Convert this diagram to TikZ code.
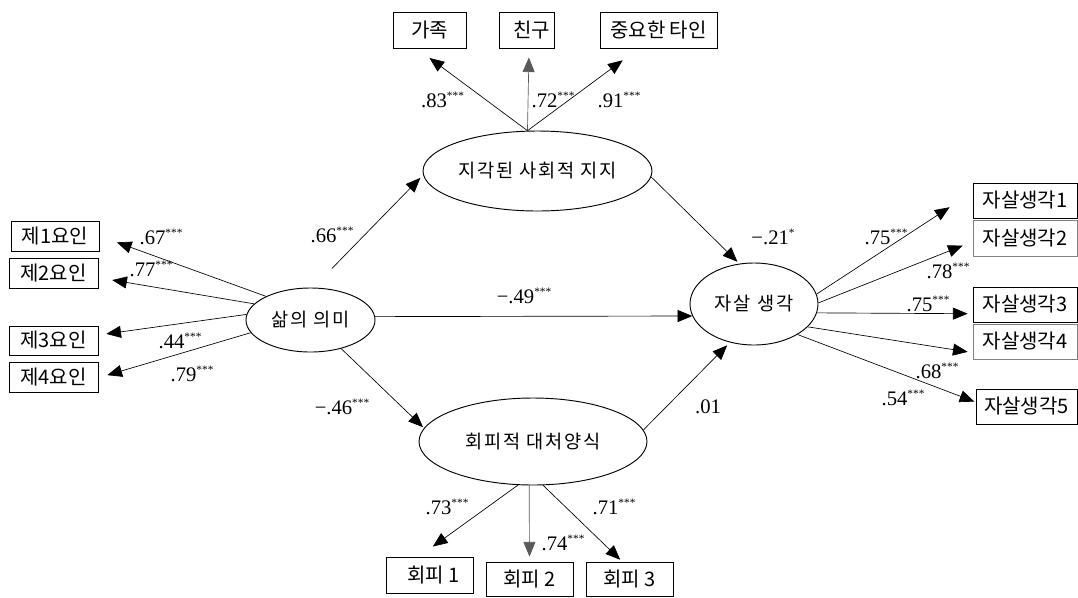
\documentclass[tikz,border=0pt]{standalone}
\usepackage{fontspec}
\setmainfont{Liberation Serif}
\newfontfamily\kr{Noto Sans CJK KR}
\newfontfamily\krsp[LetterSpace=10]{Noto Sans CJK KR}
\usetikzlibrary{shapes.geometric,arrows.meta}
\newcommand\sig[1]{\raisebox{0.42em}{\fontsize{8.5}{8.5}\selectfont #1}}
\tikzset{
  box/.style={draw, line width=0.6pt, inner sep=0pt, font=\kr\fontsize{15}{17}\selectfont},
  lat/.style={ellipse, draw, line width=0.7pt, inner sep=0pt, font=\krsp\fontsize{14}{16}\selectfont},
  arr/.style={-{Triangle[length=11pt,width=9pt]}, line width=0.5pt},
  lab/.style={inner sep=0pt, font=\fontsize{15.5}{17}\selectfont},
}
\begin{document}
\begin{tikzpicture}[x=0.75pt,y=-0.75pt]
\useasboundingbox (0,0) rectangle (1078,597);
% indicator boxes
\node[box,minimum width=54.75pt,minimum height=27pt] (gj) at (429.5,30) {가족\hspace{5pt}};
\node[box,minimum width=41.25pt,minimum height=27pt] (cg) at (526.5,30) {\hspace{8pt}친구};
\node[box,minimum width=87.75pt,minimum height=27pt] (jy) at (658.5,30) {중요한 타인};
\node[box,minimum width=66pt,minimum height=22.5pt] (f1) at (55,236) {제1요인};
\node[box,minimum width=66.75pt,minimum height=22.5pt] (f2) at (53.5,273) {제2요인};
\node[box,minimum width=66.75pt,minimum height=21.75pt] (f3) at (53.5,340.5) {제3요인};
\node[box,minimum width=66.75pt,minimum height=22.5pt] (f4) at (53.5,377) {제4요인};
\node[box,minimum width=78pt,minimum height=26.25pt] (s1) at (1025,200.5) {자살생각1};
\node[box,draw=gray,minimum width=78pt,minimum height=27pt] (s2) at (1025,238) {자살생각2};
\node[box,minimum width=78pt,minimum height=26.25pt] (s3) at (1025,304.5) {자살생각3};
\node[box,draw=gray,minimum width=78pt,minimum height=26.25pt] (s4) at (1025,341.5) {자살생각4};
\node[box,minimum width=75.75pt,minimum height=26.25pt] (s5) at (1026.5,406.5) {자살생각5};
\node[box,minimum width=65.25pt,minimum height=27pt] (h1) at (429.5,575) {\hspace{6pt}회피 1};
\node[box,minimum width=65.25pt,minimum height=25.5pt] (h2) at (529.5,579) {회피 2};
\node[box,minimum width=65.25pt,minimum height=25.5pt] (h3) at (629.5,579) {회피 3};
% latent variables
\node[lat,minimum width=171.75pt,minimum height=60pt] (jg) at (537.5,171) {\makebox[0pt]{지각된 사회적 지지}};
\node[lat,minimum width=96.75pt,minimum height=48pt] (sm) at (310.5,320) {\makebox[0pt]{삶의 의미}};
\node[lat,minimum width=96pt,minimum height=61.5pt] (js) at (754,304) {\makebox[0pt]{자살 생각}};
\node[lat,minimum width=171pt,minimum height=65.25pt] (hp) at (533,441.5) {\makebox[0pt]{회피적 대처양식}};
% measurement arrows
\draw[arr, shorten >=12pt] (jg.104) -- (gj.-125);
\draw[arr, draw=gray!70!black, shorten >=6.75pt] (jg.104) -- (cg.-82);
\draw[arr, shorten >=15pt] (jg.104) -- (jy.-137);
\draw[arr, shorten >=14pt] (sm.152) -- (f1.east);
\draw[arr, shorten >=10.5pt] (sm.164.6) -- (f2.-6.4);
\draw[arr, shorten >=6pt] (sm.175.6) -- (f3.7);
\draw[arr, shorten >=7pt] (sm.192) -- (f4.-1);
\draw[arr, shorten >=20.6pt] (js.9.75) -- (s1.171.8);
\draw[arr, shorten >=8pt] (js.1.7) -- (s2.184.4);
\draw[arr, shorten >=3.75pt] (js.-8.9) -- (s3.190.4);
\draw[arr, shorten >=3.75pt] (js.-23.3) -- (s4.192.5);
\draw[arr, shorten >=1pt] (js.-35.2) -- (s5.175.5);
\draw[arr, shorten >=12.9pt] (hp.251.4) -- (h1.120.3);
\draw[arr, draw=gray!70!black, shorten >=3.75pt] (hp.265) -- (h2.north);
\draw[arr, shorten >=2pt] (hp.283.9) -- (h3.113);
% structural arrows
\draw[arr, shorten <=20pt, shorten >=3pt] (sm.85.5) -- (jg.182.7);
\draw[arr] (sm.3) -- (js.191.5);
\draw[arr, shorten >=1pt] (sm.-43.8) -- (hp.173.5);
\draw[arr, shorten >=2pt] (jg.-3.5) -- (js.110.2);
\draw[arr, shorten >=3pt] (hp.6) -- (js.238.8);
% coefficient labels
\node[lab] (l1) at (442.5,100) {.83\sig{***}};
\node[lab] (l2) at (553,100) {.72\sig{***}};
\node[lab] (l3) at (619,100) {.91\sig{***}};
\node[lab] (l4) at (161,237) {.67\sig{***}};
\node[lab] (l5) at (151,269) {.77\sig{***}};
\node[lab] (l6) at (180,341) {.44\sig{***}};
\node[lab] (l7) at (192,374) {.79\sig{***}};
\node[lab] (l8) at (332,235) {.66\sig{***}};
\node[lab] (l9) at (342,407) {−.46\sig{***}};
\node[lab] (l10) at (524,296) {−.49\sig{***}};
\node[lab] (l11) at (773,237) {−.21\sig{*}};
\node[lab] (l12) at (708,407) {.01};
\node[lab] (l13) at (886,237) {.75\sig{***}};
\node[lab] (l14) at (948,271) {.78\sig{***}};
\node[lab] (l15) at (928,304) {.75\sig{***}};
\node[lab] (l16) at (937,371) {.68\sig{***}};
\node[lab] (l17) at (903,398) {.54\sig{***}};
\node[lab] (l18) at (447,507) {.73\sig{***}};
\node[lab] (l19) at (563,543) {.74\sig{***}};
\node[lab] (l20) at (614,507) {.71\sig{***}};
\end{tikzpicture}
\end{document}
